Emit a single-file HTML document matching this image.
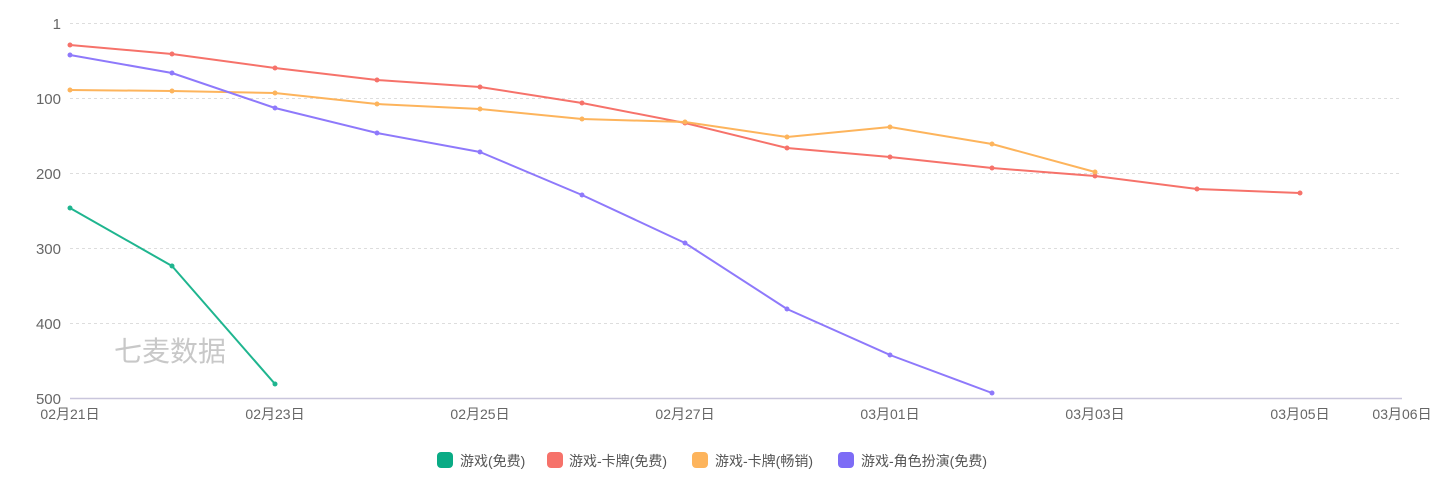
<!DOCTYPE html>
<html><head><meta charset="utf-8"><style>
html,body{margin:0;padding:0;background:#fff;}
svg{display:block;font-family:"Liberation Sans","Noto Sans CJK SC",sans-serif;}
</style></head><body>
<svg width="1440" height="500" viewBox="0 0 1440 500">
<g stroke="#ddd" stroke-dasharray="3,3" stroke-width="1">
<line x1="70" y1="23.5" x2="1402" y2="23.5"/>
<line x1="70" y1="98.5" x2="1402" y2="98.5"/>
<line x1="70" y1="173.5" x2="1402" y2="173.5"/>
<line x1="70" y1="248.5" x2="1402" y2="248.5"/>
<line x1="70" y1="323.5" x2="1402" y2="323.5"/>
</g>
<line x1="70" y1="398.5" x2="1402" y2="398.5" stroke="#c9c6dc" stroke-width="1.5"/>
<g fill="#666" font-size="15" text-anchor="end">
<text x="61" y="29">1</text>
<text x="61" y="104">100</text>
<text x="61" y="179">200</text>
<text x="61" y="254">300</text>
<text x="61" y="329">400</text>
<text x="61" y="404">500</text>
</g>
<g fill="#666" font-size="14" text-anchor="middle">
<text x="70" y="419">02月21日</text>
<text x="275" y="419">02月23日</text>
<text x="480" y="419">02月25日</text>
<text x="685" y="419">02月27日</text>
<text x="890" y="419">03月01日</text>
<text x="1095" y="419">03月03日</text>
<text x="1300" y="419">03月05日</text>
<text x="1402" y="419">03月06日</text>
</g>
<text x="114" y="361" font-size="28" fill="#c8c8c8">七麦数据</text>
<g fill="none" stroke-width="2" stroke-linejoin="round">
<polyline stroke="#f6726a" points="70,45 172,54 275,68 377,80 480,87 582,103 685,123 787,148 890,157 992,168 1095,176 1197,189 1300,193"/>
<polyline stroke="#fdb45c" points="70,90 172,91 275,93 377,104 480,109 582,119 685,122 787,137 890,127 992,144 1095,172"/>
<polyline stroke="#8e79fb" points="70,55 172,73 275,108 377,133 480,152 582,195 685,243 787,309 890,355 992,393"/>
<polyline stroke="#1fb58f" points="70,208 172,266 275,384"/>
</g>
<g fill="#f6726a"><circle cx="70" cy="45" r="2.5"/><circle cx="172" cy="54" r="2.5"/><circle cx="275" cy="68" r="2.5"/><circle cx="377" cy="80" r="2.5"/><circle cx="480" cy="87" r="2.5"/><circle cx="582" cy="103" r="2.5"/><circle cx="685" cy="123" r="2.5"/><circle cx="787" cy="148" r="2.5"/><circle cx="890" cy="157" r="2.5"/><circle cx="992" cy="168" r="2.5"/><circle cx="1095" cy="176" r="2.5"/><circle cx="1197" cy="189" r="2.5"/><circle cx="1300" cy="193" r="2.5"/></g>
<g fill="#fdb45c"><circle cx="70" cy="90" r="2.5"/><circle cx="172" cy="91" r="2.5"/><circle cx="275" cy="93" r="2.5"/><circle cx="377" cy="104" r="2.5"/><circle cx="480" cy="109" r="2.5"/><circle cx="582" cy="119" r="2.5"/><circle cx="685" cy="122" r="2.5"/><circle cx="787" cy="137" r="2.5"/><circle cx="890" cy="127" r="2.5"/><circle cx="992" cy="144" r="2.5"/><circle cx="1095" cy="172" r="2.5"/></g>
<g fill="#8e79fb"><circle cx="70" cy="55" r="2.5"/><circle cx="172" cy="73" r="2.5"/><circle cx="275" cy="108" r="2.5"/><circle cx="377" cy="133" r="2.5"/><circle cx="480" cy="152" r="2.5"/><circle cx="582" cy="195" r="2.5"/><circle cx="685" cy="243" r="2.5"/><circle cx="787" cy="309" r="2.5"/><circle cx="890" cy="355" r="2.5"/><circle cx="992" cy="393" r="2.5"/></g>
<g fill="#1fb58f"><circle cx="70" cy="208" r="2.5"/><circle cx="172" cy="266" r="2.5"/><circle cx="275" cy="384" r="2.5"/></g>
<g font-size="14" fill="#555">
<rect x="437" y="452" width="16" height="16" rx="4" fill="#0aab85"/>
<text x="460" y="466">游戏(免费)</text>
<rect x="547" y="452" width="16" height="16" rx="4" fill="#f6726a"/>
<text x="569" y="466">游戏-卡牌(免费)</text>
<rect x="692" y="452" width="16" height="16" rx="4" fill="#fdb45c"/>
<text x="715" y="466">游戏-卡牌(畅销)</text>
<rect x="838" y="452" width="16" height="16" rx="4" fill="#7d6cf6"/>
<text x="861" y="466">游戏-角色扮演(免费)</text>
</g>
</svg>
</body></html>
